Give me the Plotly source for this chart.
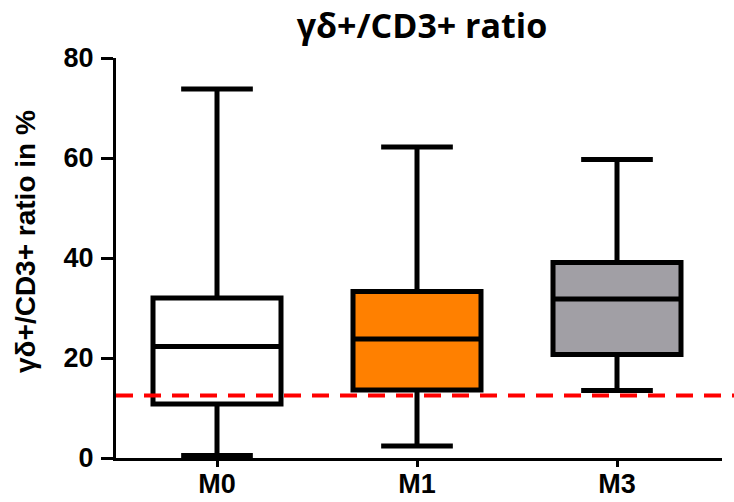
import plotly.graph_objects as go

# Box summaries (percent) per time point
groups = ["M0", "M1", "M3"]
q1 = [10.8, 13.6, 20.7]
median = [22.3, 23.8, 31.8]
q3 = [32.0, 33.3, 39.1]
low = [0.5, 2.4, 13.5]
high = [73.8, 62.2, 59.7]
fills = ["#ffffff", "#ff8000", "#a19fa5"]

threshold = 12.5
y_ticks = [0, 20, 40, 60, 80]

fig = go.Figure()
for i, g in enumerate(groups):
    fig.add_trace(go.Box(
        x=[g], q1=[q1[i]], median=[median[i]], q3=[q3[i]],
        lowerfence=[low[i]], upperfence=[high[i]],
        fillcolor=fills[i], line=dict(color="black", width=5),
        width=0.64, whiskerwidth=0.56, boxpoints=False,
        showlegend=False, hoverinfo="skip",
    ))

fig.add_shape(type="line", xref="paper", yref="y",
              x0=0, x1=1.03, y0=threshold, y1=threshold,
              line=dict(color="#ff0000", width=4, dash="17px,11px"),
              layer="above")

axis_font = dict(family="Liberation Sans, Arial", size=27, color="black", weight="bold")

fig.update_layout(
    width=734, height=502,
    margin=dict(l=116, r=12, t=58, b=44),
    plot_bgcolor="white", paper_bgcolor="white",
    boxmode="overlay",
    title=dict(text="γδ+/CD3+ ratio", x=422 / 734, xanchor="center",
               y=1 - 26 / 502, yanchor="middle", yref="container",
               font=dict(family="Open Sans", size=34, color="black", weight="bold")),
    xaxis=dict(range=[-0.505, 2.525], showline=True, linecolor="black", linewidth=3,
               ticks="outside", ticklen=6, tickwidth=3, tickcolor="black",
               showgrid=False, zeroline=False, tickfont=axis_font, automargin=False,
               ticklabelstandoff=-6),
    yaxis=dict(range=[0, 80], tickvals=y_ticks, showline=True, linecolor="black",
               linewidth=3, ticks="outside", ticklen=12, tickwidth=3, tickcolor="black",
               showgrid=False, zeroline=False, tickfont=axis_font, ticklabelstandoff=2,
               automargin=False),
    annotations=[dict(text="γδ+/CD3+ ratio in %", textangle=-90,
                      xref="paper", yref="paper", x=(25 - 116) / 606, y=(458 - 241) / 400,
                      xanchor="center", yanchor="middle", showarrow=False,
                      font=dict(family="Liberation Sans, Arial", size=28, color="black",
                                weight="bold"))],
)

fig.write_html("out.html")
